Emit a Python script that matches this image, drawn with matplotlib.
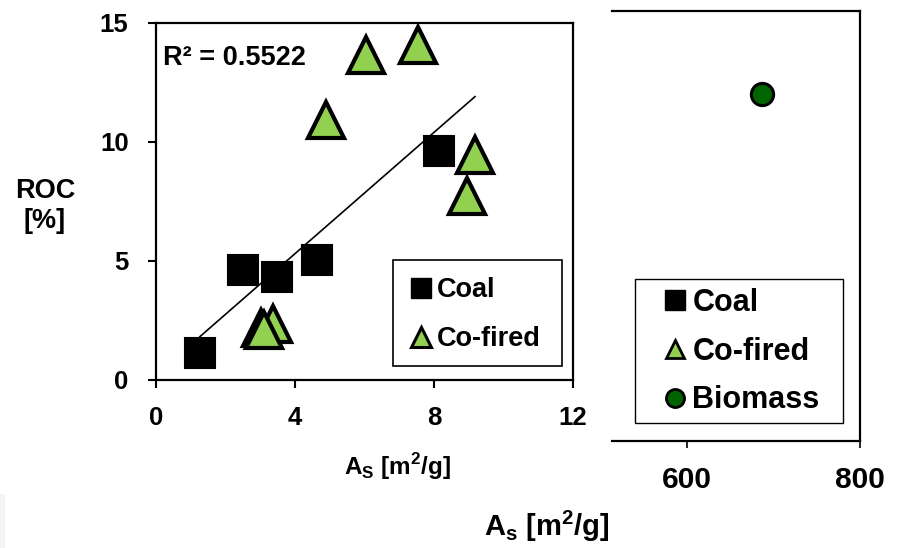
import numpy as np
import matplotlib
matplotlib.use("Agg")
from matplotlib import pyplot as plt
from matplotlib.patches import Rectangle
from matplotlib.lines import Line2D

plt.rcParams['font.family'] = ['Liberation Sans', 'DejaVu Sans']
plt.rcParams['font.weight'] = 'bold'

# data
coal_x = [1.27, 2.52, 3.49, 4.63, 8.15]
coal_y = [1.12, 4.62, 4.34, 5.04, 9.63]
cofired_x = [3.03, 3.38, 3.12, 4.91, 6.06, 7.55, 8.94, 9.18]
cofired_y = [2.20, 2.33, 2.08, 10.92, 13.66, 14.05, 7.72, 9.44]
biomass_x = [687]
biomass_y = [12.1]
trend_coef = [1.274, 0.20]  # slope, intercept
r2_text = "R² = 0.5522"

green = "#92D050"
dark_green = "#006400"

fig = plt.figure(figsize=(9.03, 5.48), dpi=100)

# faint strip in the lower left corner
fig.patches.append(Rectangle((0, 0), 0.0055, 0.099, transform=fig.transFigure,
                             facecolor="#f3f5f9", edgecolor="none"))

ax = fig.add_axes([0.1724, 0.3066, 0.4622, 0.652])
ax2 = fig.add_axes([0.6777, 0.1953, 0.2747, 0.7847])

# left panel
xs = np.array([min(coal_x + cofired_x), max(coal_x + cofired_x)])
ax.plot(xs, trend_coef[0] * xs + trend_coef[1], color="black", lw=1.2, zorder=1)
ax.plot(coal_x, coal_y, 's', ms=22, mfc="black", mec="black", mew=1.5,
        ls="none", zorder=2)
ax.plot(cofired_x, cofired_y, '^', ms=26, mfc=green, mec="black", mew=3,
        ls="none", zorder=3)
ax.text(0.017, 0.901, r2_text, transform=ax.transAxes, fontsize=19.5,
        fontweight="bold", ha="left", va="center")

ax.set_xlim(0, 12)
ax.set_ylim(0, 15)
ax.set_xticks([0, 4, 8, 12])
ax.set_yticks([0, 5, 10, 15])
ax.tick_params(direction="out", length=5.5, width=1.5, labelsize=18.5)
ax.tick_params(axis="x", pad=13)
ax.tick_params(axis="y", pad=14)
for s in ax.spines.values():
    s.set_linewidth(1.6)

# legend frame drawn separately so the box can be sized like the original
ax.add_patch(Rectangle((0.569, 0.039), 0.405, 0.297, transform=ax.transAxes,
                       facecolor="white", edgecolor="black", lw=1.2, zorder=4))
coal_h = Line2D([], [], marker='s', ms=15, mfc="black", mec="black", ls="none")
cof_h = Line2D([], [], marker='^', ms=15, mfc=green, mec="black", mew=2.2, ls="none")
leg = ax.legend([coal_h, cof_h], ["Coal", "Co-fired"], loc="center",
                bbox_to_anchor=(0.766, 0.182), fontsize=19.5, frameon=False,
                borderpad=0, labelspacing=0.85, handlelength=0.8,
                handletextpad=0.2, borderaxespad=0)
leg.set_zorder(5)

# right panel
ax2.plot(biomass_x, biomass_y, 'o', ms=16, mfc=dark_green, mec="black", mew=2.2,
         ls="none")
ax2.set_xlim(513.8, 800)
ax2.set_ylim(0, 15)
ax2.set_xticks([600, 800])
ax2.set_yticks([])
ax2.spines["left"].set_visible(False)
for s in ["top", "right", "bottom"]:
    ax2.spines[s].set_linewidth(1.6)
ax2.tick_params(axis="x", direction="out", length=5, width=1.2, labelsize=21.5, pad=13)

ax2.add_patch(Rectangle((0.093, 0.041), 0.837, 0.336, transform=ax2.transAxes,
                        facecolor="white", edgecolor="black", lw=1.0, zorder=4))
handles2 = [
    Line2D([], [], marker='s', ms=14, mfc="black", mec="black", ls="none"),
    Line2D([], [], marker='^', ms=13, mfc=green, mec="black", mew=2, ls="none"),
    Line2D([], [], marker='o', ms=13, mfc=dark_green, mec="black", mew=2, ls="none"),
]
leg2 = ax2.legend(handles2, ["Coal", "Co-fired", "Biomass"], loc="center",
                  bbox_to_anchor=(0.522, 0.208), fontsize=22, frameon=False,
                  borderpad=0, labelspacing=0.62, handlelength=0.75,
                  handletextpad=0.2, borderaxespad=0)
leg2.set_zorder(5)

fig.text(0.0498, 0.624, "ROC\n[%]", ha="center", va="center", fontsize=19.5,
         fontweight="bold", linespacing=1.2)
narrow = ['Liberation Sans Narrow', 'Liberation Sans', 'DejaVu Sans']
fig.text(0.44, 0.148, r"A$_\mathregular{S}$ [m$^\mathregular{2}$/g]", ha="center",
         va="center", fontsize=17.5, fontweight="bold", family=narrow)
fig.text(0.606, 0.040, r"A$_\mathregular{s}$ [m$^\mathregular{2}$/g]", ha="center",
         va="center", fontsize=21, fontweight="bold", family=narrow)

fig.savefig("out.png", dpi=100)
